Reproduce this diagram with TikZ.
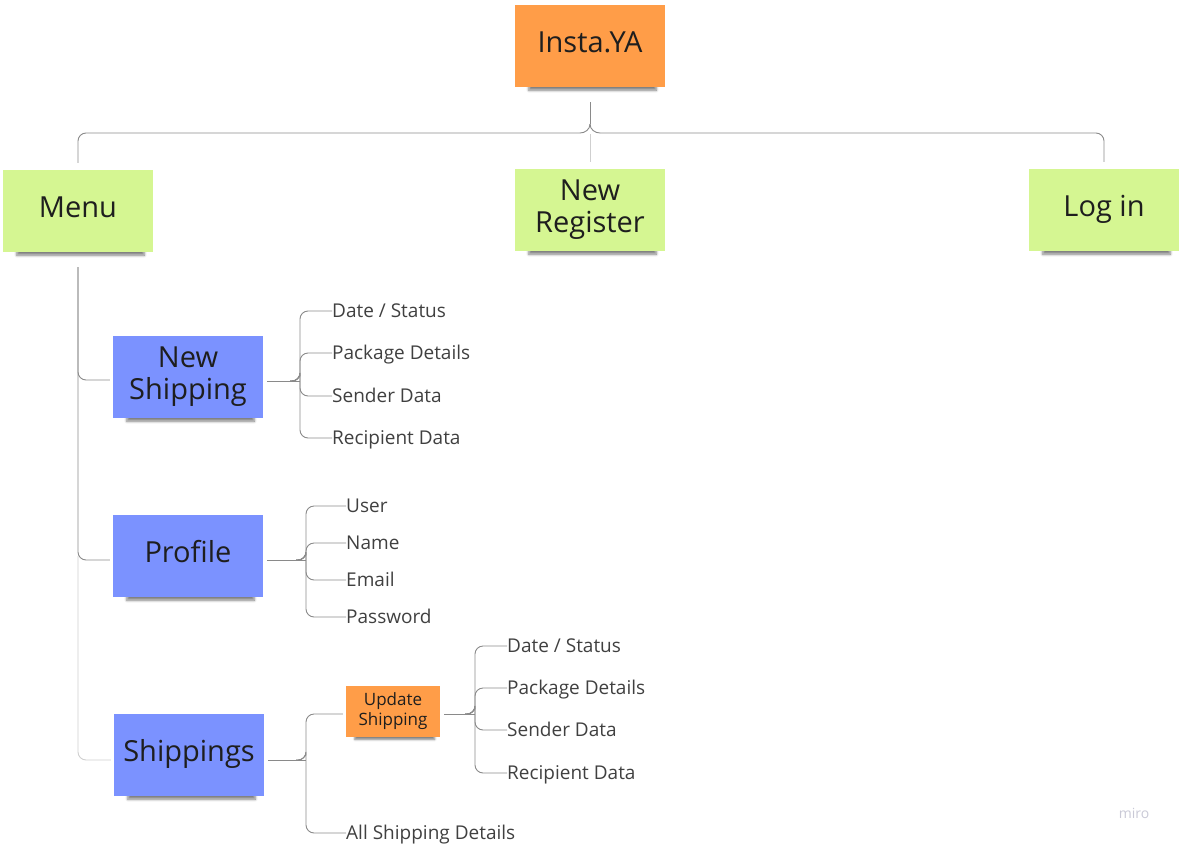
\documentclass[tikz,border=0pt]{standalone}
\usepackage{fontspec}
\setmainfont{Open Sans}
\usetikzlibrary{shadows.blur}
\definecolor{orng}{HTML}{FF9D48}
\definecolor{grn}{HTML}{D5F692}
\definecolor{blu}{HTML}{7B92FF}
\definecolor{txt}{HTML}{1E1E1E}
\definecolor{lne}{HTML}{8A8A8A}
\definecolor{lnelight}{HTML}{CFCFCF}
\definecolor{miroc}{HTML}{C9C9D6}
\tikzset{
  sticky/.style={minimum width=150pt, minimum height=82pt, inner sep=0pt, align=center,
    text=txt, font=\fontsize{29}{32}\selectfont,
    blur shadow={shadow blur steps=6, shadow blur radius=3pt, shadow xshift=3pt, shadow yshift=-11pt, shadow scale=0.85, shadow opacity=50}},
  one/.style={text height=21pt, text depth=8pt},
  stickyS/.style={minimum width=94pt, minimum height=51pt, inner sep=0pt, align=center,
    text=txt, font=\fontsize{17}{20}\selectfont, fill=orng,
    blur shadow={shadow blur steps=5, shadow blur radius=2.5pt, shadow xshift=2pt, shadow yshift=-8pt, shadow scale=0.85, shadow opacity=50}},
  leaf/.style={anchor=west, inner sep=0pt, text=txt!85, font=\fontsize{19}{22}\selectfont,
    text height=13.6pt, text depth=0pt},
  conn/.style={draw=lne, line width=0.9pt},
  connL/.style={draw=lnelight, line width=0.9pt},
  brace/.style={conn, rounded corners=8pt},
}
\begin{document}
\begin{tikzpicture}[x=1pt,y=-1pt]
\useasboundingbox (0,0) rectangle (1181,846);
% top level
\node[sticky, one, fill=orng] (insta) at (590,46) {Insta.YA};
\node[sticky, one, fill=grn] (menu) at (78,211) {Menu};
\node[sticky, fill=grn] (newreg) at (590,210) {New\\Register};
\node[sticky, one, fill=grn] (login) at (1104,210) {Log in};
% second level
\node[sticky, fill=blu] (nship) at (188,377) {New\\Shipping};
\node[sticky, one, fill=blu] (profile) at (188,556) {Profile};
\node[sticky, one, fill=blu] (ships) at (189,755) {Shippings};
\node[stickyS] (upd) at (393,711) {Update\\Shipping};
% leaves
\node[leaf] (ns1) at (332,311) {Date / Status};
\node[leaf] (ns2) at (332,353) {Package Details};
\node[leaf] (ns3) at (332,396) {Sender Data};
\node[leaf] (ns4) at (332,438) {Recipient Data};
\node[leaf] (pr1) at (346,506) {User};
\node[leaf] (pr2) at (346,543) {Name};
\node[leaf] (pr3) at (346,580) {Email};
\node[leaf] (pr4) at (346,617) {Password};
\node[leaf] (up1) at (507,646) {Date / Status};
\node[leaf] (up2) at (507,688) {Package Details};
\node[leaf] (up3) at (507,730) {Sender Data};
\node[leaf] (up4) at (507,773) {Recipient Data};
\node[leaf] (all) at (346,833) {All Shipping Details};
\node[font=\fontsize{14}{16}\selectfont, text=miroc, inner sep=0pt] (miro) at (1134,813) {miro};
% top connectors
\coordinate (jl) at (580,133);
\coordinate (jr) at (600,133);
\coordinate (jt) at (590,124);
\draw[brace] ([yshift=7pt]menu.north) |- (jl);
\draw[brace] ([yshift=7pt]login.north) |- (jr);
\draw[conn] (jl) to[out=0,in=-90] (jt);
\draw[conn] (jr) to[out=180,in=-90] (jt);
\draw[conn] (jt) -- ([yshift=-15pt]insta.south);
\draw[connL] (590,134) -- ([yshift=7pt]newreg.north);
% menu trunk
\coordinate (mt) at ([yshift=-15pt]menu.south);
\draw[brace] (mt) |- ([xshift=-3pt,yshift=-3pt]nship.west);
\draw[brace] (mt) |- ([xshift=-3pt,yshift=-4pt]profile.west);
\draw[connL, rounded corners=8pt] (78,556) |- ([xshift=-3pt,yshift=-5pt]ships.west);
% new shipping brace
\coordinate (nsb) at (300,381);
\draw[conn] ([xshift=4pt]nship.east |- nsb) -- (nsb);
\foreach \c in {ns1,ns2,ns3,ns4} \draw[brace] ([xshift=-10pt]nsb) -| ++(10,0) |- (\c.west);
% profile brace
\coordinate (prb) at (306,560);
\draw[conn] ([xshift=4pt]profile.east |- prb) -- (prb);
\foreach \c in {pr1,pr2,pr3,pr4} \draw[brace] ([xshift=-10pt]prb) -| ++(10,0) |- (\c.west);
% shippings brace
\coordinate (shb) at (306,760);
\draw[conn] ([xshift=4pt]ships.east |- shb) -- (shb);
\draw[brace] ([xshift=-10pt]shb) -| ++(10,0) |- ([xshift=-3pt,yshift=-3pt]upd.west);
\draw[brace] ([xshift=-10pt]shb) -| ++(10,0) |- (all.west);
% update shipping brace
\coordinate (upb) at (475,714);
\draw[conn] ([xshift=4pt]upd.east |- upb) -- (upb);
\foreach \c in {up1,up2,up3,up4} \draw[brace] ([xshift=-10pt]upb) -| ++(10,0) |- (\c.west);
\end{tikzpicture}
\end{document}
